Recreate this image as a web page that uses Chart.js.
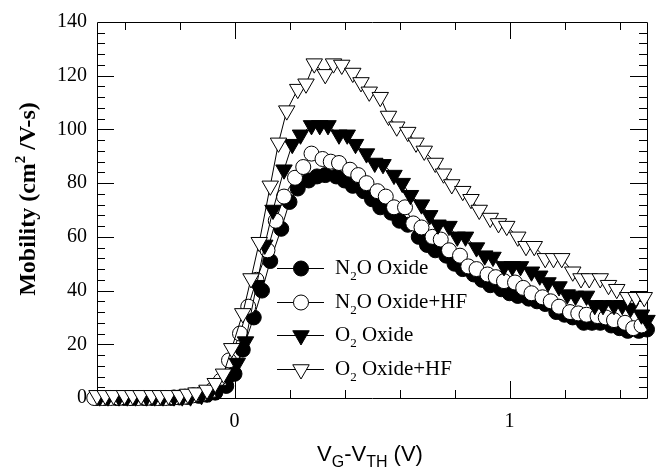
<!DOCTYPE html>
<html>
<head>
<meta charset="utf-8">
<script src="https://cdn.jsdelivr.net/npm/chart.js@4.4.0/dist/chart.umd.min.js"></script>
<style>
    html, body { margin: 0; padding: 0; background: #fff; }
    #wrap { width: 670px; height: 468px; }
</style>
</head>
<body>
<div id="wrap"><canvas id="mobilityChart" width="670" height="468"></canvas></div>
<script>
// ===== DATA (V_G - V_TH in volts, mobility in cm2/V-s) =====
const n2oX = [-0.50, -0.47, -0.43, -0.40, -0.37, -0.33, -0.30, -0.27, -0.23, -0.20, -0.17, -0.13, -0.10, -0.07, -0.03,
    0.00, 0.03, 0.07, 0.10, 0.13, 0.17, 0.20, 0.23, 0.27, 0.30, 0.33, 0.37, 0.40, 0.43, 0.47,
    0.50, 0.53, 0.57, 0.60, 0.63, 0.67, 0.70, 0.73, 0.77, 0.80, 0.83, 0.87, 0.90, 0.93, 0.97,
    1.00, 1.03, 1.07, 1.10, 1.13, 1.17, 1.20, 1.23, 1.27, 1.30, 1.33, 1.37, 1.40, 1.43, 1.47, 1.50];
const n2oY = [0, 0, 0, 0, 0, 0, 0, 0, 0, 0.2, 0.4, 0.8, 1.2, 2, 4.5,
    9, 18, 30, 40, 51, 63, 73, 78, 81, 82.5, 83, 82.5, 81, 79, 77,
    74, 71, 69, 66, 64.5, 60, 57, 55, 53, 50, 48, 46, 44, 42, 40.5,
    39, 38, 37, 36, 35, 32, 31, 30, 28, 28, 28, 27, 26, 25, 25, 25.5];

const n2oHfX = [-0.51, -0.48, -0.45, -0.42, -0.38, -0.35, -0.32, -0.28, -0.25, -0.22, -0.18, -0.15, -0.12, -0.08, -0.05, -0.02,
    0.02, 0.05, 0.08, 0.12, 0.15, 0.18, 0.22, 0.25, 0.28, 0.32, 0.35, 0.38, 0.42, 0.45, 0.48,
    0.52, 0.55, 0.58, 0.62, 0.65, 0.68, 0.72, 0.75, 0.78, 0.82, 0.85, 0.88, 0.92, 0.95, 0.98,
    1.02, 1.05, 1.08, 1.12, 1.15, 1.18, 1.22, 1.25, 1.28, 1.32, 1.35, 1.38, 1.42, 1.45, 1.48];
const n2oHfY = [0, 0, 0, 0, 0, 0, 0, 0, 0, 0.2, 0.5, 1, 1.5, 3, 6.5, 14,
    24, 34, 44, 55, 66, 75, 82, 86, 91, 89, 88, 87.5, 85, 83, 80,
    77, 75, 71, 71, 65, 63.5, 60, 59, 55, 53, 49, 48, 46, 45, 43.5,
    43, 41, 39, 37.5, 36, 34, 32, 31.5, 31, 30.5, 30, 29, 28, 26, 27];

const o2X = [-0.49, -0.46, -0.42, -0.39, -0.36, -0.32, -0.29, -0.26, -0.22, -0.19, -0.16, -0.12, -0.09, -0.06, -0.02,
    0.01, 0.04, 0.08, 0.11, 0.14, 0.18, 0.21, 0.24, 0.28, 0.31, 0.34, 0.38, 0.41, 0.44, 0.48,
    0.51, 0.54, 0.58, 0.61, 0.64, 0.68, 0.71, 0.74, 0.78, 0.81, 0.84, 0.88, 0.91, 0.94, 0.98,
    1.01, 1.04, 1.08, 1.11, 1.14, 1.18, 1.21, 1.24, 1.28, 1.31, 1.34, 1.38, 1.41, 1.44, 1.48, 1.50];
const o2Y = [0.5, 0.5, 0.5, 0.5, 0.5, 0.5, 0.5, 0.5, 0.5, 0.5, 0.5, 1, 2, 3, 7,
    13, 21, 42, 57, 70, 85, 94.5, 98, 101.5, 101.5, 101.5, 98, 98, 94.5, 91,
    87.5, 87, 83, 80, 75.5, 72, 68, 64.5, 64, 60, 60, 56, 53, 52.5, 49,
    49, 49, 47, 45.5, 43, 41.5, 38.5, 38, 38, 34.5, 34.5, 34.5, 34.5, 33.5, 31, 29];

const o2HfX = [-0.50, -0.47, -0.44, -0.40, -0.37, -0.34, -0.30, -0.27, -0.24, -0.20, -0.17, -0.14, -0.10, -0.07, -0.04, -0.01,
    0.03, 0.06, 0.09, 0.13, 0.16, 0.19, 0.23, 0.26, 0.29, 0.33, 0.36, 0.39, 0.43, 0.46, 0.49,
    0.53, 0.56, 0.59, 0.63, 0.66, 0.69, 0.73, 0.76, 0.79, 0.83, 0.86, 0.89, 0.93, 0.96, 0.99,
    1.03, 1.06, 1.09, 1.13, 1.16, 1.19, 1.23, 1.26, 1.29, 1.33, 1.36, 1.39, 1.43, 1.46, 1.49];
const o2HfY = [1, 1, 1, 1, 1, 1, 1, 1, 1, 1, 1.5, 2, 3, 5.5, 9, 18.5,
    31.5, 44.5, 58, 79, 95, 107, 115, 117, 124.5, 120.5, 124.5, 124, 121, 117.5, 114,
    112, 105, 101, 99, 95, 92, 87.5, 83.5, 79.5, 77, 74, 70, 67, 65, 64,
    60, 56.5, 56.5, 52, 52, 52, 47, 44.5, 44.5, 44.5, 42, 40.5, 37.5, 37.5, 37.5];

const xTickLabels = [0, 1];
const yTickLabels = [0, 20, 40, 60, 80, 100, 120, 140];

const seriesNames = ['N2O Oxide', 'N2O Oxide+HF', 'O2 Oxide', 'O2 Oxide+HF'];

// ===== HELPERS =====
function toPoints(xs, ys) {
    return xs.map((x, i) => ({ x: x, y: ys[i] }));
}

const SERIF = "'Liberation Serif', 'Times New Roman', serif";
const SANS = "'Liberation Sans', Arial, sans-serif";

// draws text pieces with optional sub/superscripts, returns end x
function drawRich(ctx, parts, x, y, size, family, weight, ratio) {
    const r = ratio || 0.62;
    let cx = x;
    parts.forEach(p => {
        const s = p.sub || p.sup ? Math.round(size * r) : size;
        ctx.font = `${weight || ''} ${s}px ${family}`;
        let dy = 0;
        if (p.sub) dy = size * 0.28;
        if (p.sup) dy = -size * 0.4;
        ctx.fillText(p.t, cx, y + dy);
        cx += ctx.measureText(p.t).width;
    });
    return cx;
}

function richWidth(ctx, parts, size, family, weight, ratio) {
    const r = ratio || 0.62;
    let w = 0;
    parts.forEach(p => {
        const s = p.sub || p.sup ? Math.round(size * r) : size;
        ctx.font = `${weight || ''} ${s}px ${family}`;
        w += ctx.measureText(p.t).width;
    });
    return w;
}

const markerStyles = [
    { pointStyle: 'circle', radius: 7.5, rotation: 0, fill: '#000' },
    { pointStyle: 'circle', radius: 7.5, rotation: 0, fill: '#fff' },
    { pointStyle: 'triangle', radius: 9.5, rotation: 180, fill: '#000' },
    { pointStyle: 'triangle', radius: 9.5, rotation: 180, fill: '#fff' }
];

function makeDataset(i, xs, ys) {
    const m = markerStyles[i];
    return {
        label: seriesNames[i],
        data: toPoints(xs, ys),
        showLine: true,
        borderColor: '#000',
        borderWidth: 1,
        pointStyle: m.pointStyle,
        pointRotation: m.rotation,
        pointRadius: m.radius,
        pointHoverRadius: m.radius,
        pointBackgroundColor: m.fill,
        pointBorderColor: '#000',
        pointBorderWidth: 1,
        clip: false,
        order: 3 - i
    };
}

// ===== FRAME & INWARD TICKS =====
const framePlugin = {
    id: 'frame',
    beforeDatasetsDraw(chart) {
        const { ctx, chartArea: a, scales } = chart;
        const xs = scales.x, ys = scales.y;
        ctx.save();
        ctx.strokeStyle = '#000';
        ctx.lineWidth = 1;
        ctx.beginPath();
        ctx.rect(Math.round(a.left) + 0.5, Math.round(a.top) + 0.5,
            Math.round(a.right - a.left), Math.round(a.bottom - a.top));
        ctx.stroke();

        ctx.beginPath();
        for (let v = -4; v <= 14; v += 2) {
            const val = v / 10;
            const px = Math.round(xs.getPixelForValue(val)) + 0.5;
            const len = (v % 10 === 0) ? 17 : 8;
            ctx.moveTo(px, a.bottom); ctx.lineTo(px, a.bottom - len);
            ctx.moveTo(px, a.top); ctx.lineTo(px, a.top + len);
        }
        for (let v = 4; v < 140; v += 4) {
            const py = Math.round(ys.getPixelForValue(v)) + 0.5;
            const len = (v % 20 === 0) ? 17 : 8;
            ctx.moveTo(a.left, py); ctx.lineTo(a.left + len, py);
            ctx.moveTo(a.right, py); ctx.lineTo(a.right - len, py);
        }
        ctx.stroke();
        ctx.restore();
    },
    afterDraw(chart) {
        const ctx = chart.ctx;
        ctx.save();
        ctx.fillStyle = '#000';
        ctx.textBaseline = 'alphabetic';

        // x axis title
        const xParts = [{ t: 'V' }, { t: 'G', sub: true }, { t: '-V' }, { t: 'TH', sub: true }, { t: ' (V)' }];
        const xw = richWidth(ctx, xParts, 22, SANS, '', 0.72);
        drawRich(ctx, xParts, 370 - xw / 2, 461, 22, SANS, '', 0.72);

        // y axis title
        ctx.save();
        ctx.translate(35, 199);
        ctx.rotate(-Math.PI / 2);
        const yParts = [{ t: 'Mobility (cm' }, { t: '2', sup: true }, { t: ' /V-s)' }];
        const yw = richWidth(ctx, yParts, 24, SERIF, 'bold');
        drawRich(ctx, yParts, -yw / 2, 0, 24, SERIF, 'bold');
        ctx.restore();

        // legend
        const rows = [268, 302, 335, 369];
        const labels = [
            [{ t: 'N' }, { t: '2', sub: true }, { t: 'O Oxide' }],
            [{ t: 'N' }, { t: '2', sub: true }, { t: 'O Oxide+HF' }],
            [{ t: 'O' }, { t: '2', sub: true }, { t: ' Oxide' }],
            [{ t: 'O' }, { t: '2', sub: true }, { t: ' Oxide+HF' }]
        ];
        rows.forEach((ry, i) => {
            ctx.strokeStyle = '#000';
            ctx.lineWidth = 1;
            ctx.beginPath();
            ctx.moveTo(277, ry + 0.5);
            ctx.lineTo(324, ry + 0.5);
            ctx.stroke();
            const m = markerStyles[i];
            ctx.fillStyle = m.fill;
            ctx.strokeStyle = '#000';
            Chart.helpers.drawPoint(ctx, {
                pointStyle: m.pointStyle, radius: m.radius, rotation: m.rotation, borderWidth: 1
            }, 301, ry + 0.5);
            ctx.fillStyle = '#000';
            drawRich(ctx, labels[i], 335, ry + 6, 21, SERIF);
        });
        ctx.restore();
    }
};

// ===== CHART =====
const chart = new Chart(document.getElementById('mobilityChart'), {
    type: 'scatter',
    data: {
        datasets: [
            makeDataset(0, n2oX, n2oY),
            makeDataset(1, n2oHfX, n2oHfY),
            makeDataset(2, o2X, o2Y),
            makeDataset(3, o2HfX, o2HfY)
        ]
    },
    options: {
        responsive: false,
        animation: false,
        events: [],
        layout: { padding: { left: 0, right: 23, top: 13, bottom: 0 } },
        plugins: {
            legend: { display: false },
            tooltip: { enabled: false }
        },
        scales: {
            x: {
                type: 'linear',
                min: -0.5,
                max: 1.5,
                grid: { display: false, drawTicks: false },
                border: { display: false },
                afterBuildTicks: s => { s.ticks = xTickLabels.map(v => ({ value: v })); },
                afterFit: s => { s.height = 70; },
                ticks: {
                    color: '#000',
                    padding: 12,
                    maxRotation: 0,
                    font: { family: SERIF, size: 20 }
                }
            },
            y: {
                type: 'linear',
                min: 0,
                max: 140,
                grid: { display: false, drawTicks: false },
                border: { display: false },
                afterBuildTicks: s => { s.ticks = yTickLabels.map(v => ({ value: v })); },
                afterFit: s => { s.width = 97; },
                ticks: {
                    color: '#000',
                    padding: 10,
                    font: { family: SERIF, size: 20 }
                }
            }
        }
    },
    plugins: [framePlugin]
});
</script>
</body>
</html>
